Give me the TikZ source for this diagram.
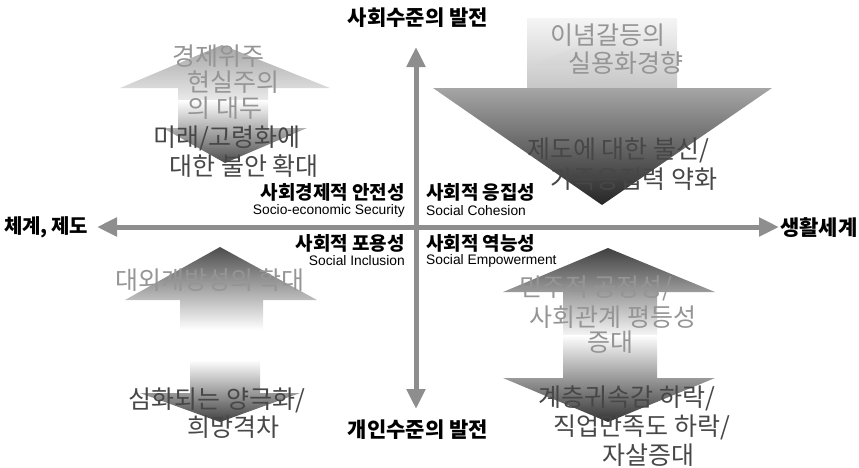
\documentclass[tikz,border=0pt]{standalone}
\usepackage{fontspec}
\setmainfont{Noto Sans CJK KR}
\newfontfamily\en{Liberation Sans}
\usetikzlibrary{arrows.meta}
\definecolor{axisgray}{HTML}{8E8E8E}
\definecolor{txtlight}{HTML}{959595}
\definecolor{txtdark}{HTML}{474747}

\begin{document}
\begin{tikzpicture}[x=1pt, y=-1pt,
  axis/.style={draw=axisgray, line width=5pt,
    {Triangle[width=18pt,length=20pt]}-{Triangle[width=18pt,length=20pt]}},
  axlabel/.style={font=\fontsize{21}{23}\selectfont\bfseries, inner sep=0pt},
  qlabel/.style={font=\fontsize{19}{21}\selectfont\bfseries, inner sep=0pt},
  qsub/.style={font=\en\fontsize{13.8}{15}\selectfont, inner sep=0pt},
  light/.style={font=\fontsize{25}{27}\selectfont, text=txtlight, inner sep=0pt},
  dark/.style={font=\fontsize{25}{27}\selectfont, text=txtdark, inner sep=0pt}
]
\useasboundingbox (0,0) rectangle (859,467);

% shaded arrows, upper left
\path[top color=black!35, middle color=black!28, bottom color=white]
  (222,45) -- (330,88) -- (268,88) -- (268,118) -- (178,118) -- (178,88) -- (120,88) -- cycle;
\path[top color=white, middle color=black!35, bottom color=black!70]
  (178,100) -- (268,100) -- (268,128) -- (307,128) -- (225,163) -- (163,128) -- (178,128) -- cycle;

% upper right
\path[top color=black!4, bottom color=black!22] (527,18) rectangle (677,88);
\path[top color=black!10, bottom color=black!22]
  (602,36) -- (672,65) -- (630,65) -- (630,88) -- (574,88) -- (574,65) -- (532,65) -- cycle;
\path[top color=black!35, bottom color=black!85] (433,88) -- (772,88) -- (602,205) -- cycle;

% lower left
\path[top color=black!70, middle color=black!38, bottom color=white]
  (220,247) -- (317,300) -- (263,300) -- (263,330) -- (180,330) -- (180,300) -- (125,300) -- cycle;
\path[top color=white, middle color=black!35, bottom color=black!75]
  (190,360) -- (260,360) -- (260,393) -- (300,393) -- (220,422) -- (140,393) -- (190,393) -- cycle;

% lower right
\path[top color=black!75, middle color=black!35, bottom color=white]
  (608,248) -- (715,292) -- (657,292) -- (657,340) -- (563,340) -- (563,292) -- (503,292) -- cycle;
\path[top color=white, middle color=black!35, bottom color=black!80]
  (563,335) -- (657,335) -- (657,378) -- (715,378) -- (608,422) -- (503,378) -- (563,378) -- cycle;

% axes
\coordinate (ntip) at (416,47);
\coordinate (stip) at (416,409);
\coordinate (wtip) at (97,227);
\coordinate (etip) at (779,227);
\draw[axis] (ntip) -- (stip);
\draw[axis] (wtip) -- (etip);

\node[axlabel] (social) at (418,18) {사회수준의 발전};
\node[axlabel] (indiv) at (418,430) {개인수준의 발전};
\node[axlabel, font=\fontsize{20}{22}\selectfont\bfseries, anchor=west] (system) at (4,227) {체계,\,제도};
\node[axlabel, anchor=west] (life) at (780,228) {생활세계};

% quadrant names
\node[qlabel, anchor=east] (sec) at (405,192) {사회경제적 안전성};
\node[qsub, anchor=east] (secen) at (405,211) {Socio-economic Security};
\node[qlabel, anchor=west] (coh) at (426,192) {사회적 응집성};
\node[qsub, anchor=west] (cohen) at (426,211) {Social Cohesion};
\node[qlabel, anchor=east] (inc) at (405,243) {사회적 포용성};
\node[qsub, anchor=east] (incen) at (405,261) {Social Inclusion};
\node[qlabel, anchor=west] (emp) at (426,243) {사회적 역능성};
\node[qsub, anchor=west] (empen) at (426,261) {Social Empowerment};

% texts in the arrows
\node[light] (ecoa) at (218,56) {경제위주};
\node[light] (ecob) at (233,82) {현실주의};
\node[light] (ecoc) at (225,108) {의 대두};
\node[dark] (agea) at (227,138) {미래/고령화에};
\node[dark] (ageb) at (244,166) {대한 불안 확대};

\node[light] (ideoa) at (608,35) {이념갈등의};
\node[light] (ideob) at (626,63) {실용화경향};
\node[dark] (trusta) at (618,150) {제도에 대한 불신/};
\node[dark] (trustb) at (634,179) {가족응집력 약화};

\node[light] (open) at (210,280) {대외개방성의 확대};
\node[dark] (polara) at (217,400) {심화되는 양극화/};
\node[dark] (polarb) at (233,427) {희망격차};

\node[light] (faira) at (596,288) {민주적 공정성/};
\node[light] (fairb) at (613,317) {사회관계 평등성};
\node[light] (fairc) at (610,342) {증대};
\node[dark] (dropa) at (627,398) {계층귀속감 하락/};
\node[dark] (dropb) at (642,427) {직업만족도 하락/};
\node[dark] (dropc) at (648,455) {자살증대};
\end{tikzpicture}
\end{document}
